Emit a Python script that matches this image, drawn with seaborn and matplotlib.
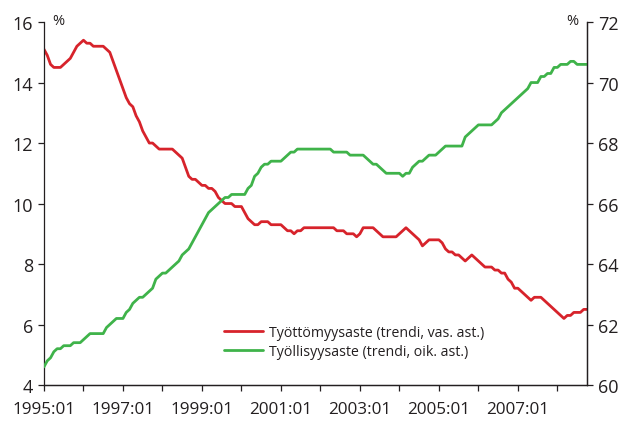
import numpy as np
import pandas as pd
import seaborn as sns
import matplotlib.pyplot as plt

# Kuukausisarjat 1995:01 - 2008:10 (trendi)
tyottomyys = [
    15.1, 14.9, 14.6, 14.5, 14.5, 14.5, 14.6, 14.7, 14.8, 15.0, 15.2, 15.3,
    15.4, 15.3, 15.3, 15.2, 15.2, 15.2, 15.2, 15.1, 15.0, 14.7, 14.4, 14.1,
    13.8, 13.5, 13.3, 13.2, 12.9, 12.7, 12.4, 12.2, 12.0, 12.0, 11.9, 11.8,
    11.8, 11.8, 11.8, 11.8, 11.7, 11.6, 11.5, 11.2, 10.9, 10.8, 10.8, 10.7,
    10.6, 10.6, 10.5, 10.5, 10.4, 10.2, 10.1, 10.0, 10.0, 10.0, 9.9, 9.9,
    9.9, 9.7, 9.5, 9.4, 9.3, 9.3, 9.4, 9.4, 9.4, 9.3, 9.3, 9.3,
    9.3, 9.2, 9.1, 9.1, 9.0, 9.1, 9.1, 9.2, 9.2, 9.2, 9.2, 9.2,
    9.2, 9.2, 9.2, 9.2, 9.2, 9.1, 9.1, 9.1, 9.0, 9.0, 9.0, 8.9,
    9.0, 9.2, 9.2, 9.2, 9.2, 9.1, 9.0, 8.9, 8.9, 8.9, 8.9, 8.9,
    9.0, 9.1, 9.2, 9.1, 9.0, 8.9, 8.8, 8.6, 8.7, 8.8, 8.8, 8.8,
    8.8, 8.7, 8.5, 8.4, 8.4, 8.3, 8.3, 8.2, 8.1, 8.2, 8.3, 8.2,
    8.1, 8.0, 7.9, 7.9, 7.9, 7.8, 7.8, 7.7, 7.7, 7.5, 7.4, 7.2,
    7.2, 7.1, 7.0, 6.9, 6.8, 6.9, 6.9, 6.9, 6.8, 6.7, 6.6, 6.5,
    6.4, 6.3, 6.2, 6.3, 6.3, 6.4, 6.4, 6.4, 6.5, 6.5,
]
tyollisyys = [
    60.6, 60.8, 60.9, 61.1, 61.2, 61.2, 61.3, 61.3, 61.3, 61.4, 61.4, 61.4,
    61.5, 61.6, 61.7, 61.7, 61.7, 61.7, 61.7, 61.9, 62.0, 62.1, 62.2, 62.2,
    62.2, 62.4, 62.5, 62.7, 62.8, 62.9, 62.9, 63.0, 63.1, 63.2, 63.5, 63.6,
    63.7, 63.7, 63.8, 63.9, 64.0, 64.1, 64.3, 64.4, 64.5, 64.7, 64.9, 65.1,
    65.3, 65.5, 65.7, 65.8, 65.9, 66.0, 66.1, 66.2, 66.2, 66.3, 66.3, 66.3,
    66.3, 66.3, 66.5, 66.6, 66.9, 67.0, 67.2, 67.3, 67.3, 67.4, 67.4, 67.4,
    67.4, 67.5, 67.6, 67.7, 67.7, 67.8, 67.8, 67.8, 67.8, 67.8, 67.8, 67.8,
    67.8, 67.8, 67.8, 67.8, 67.7, 67.7, 67.7, 67.7, 67.7, 67.6, 67.6, 67.6,
    67.6, 67.6, 67.5, 67.4, 67.3, 67.3, 67.2, 67.1, 67.0, 67.0, 67.0, 67.0,
    67.0, 66.9, 67.0, 67.0, 67.2, 67.3, 67.4, 67.4, 67.5, 67.6, 67.6, 67.6,
    67.7, 67.8, 67.9, 67.9, 67.9, 67.9, 67.9, 67.9, 68.2, 68.3, 68.4, 68.5,
    68.6, 68.6, 68.6, 68.6, 68.6, 68.7, 68.8, 69.0, 69.1, 69.2, 69.3, 69.4,
    69.5, 69.6, 69.7, 69.8, 70.0, 70.0, 70.0, 70.2, 70.2, 70.3, 70.3, 70.5,
    70.5, 70.6, 70.6, 70.6, 70.7, 70.7, 70.6, 70.6, 70.6, 70.6,
]
x_tick_labels = ["1995:01", "1997:01", "1999:01", "2001:01",
                 "2003:01", "2005:01", "2007:01"]
legend_labels = ["Työttömyysaste (trendi, vas. ast.)",
                 "Työllisyysaste (trendi, oik. ast.)"]

df = pd.DataFrame({
    "kk": np.arange(len(tyottomyys)),
    "tyottomyys": tyottomyys,
    "tyollisyys": tyollisyys,
})

sns.set_style("ticks")
plt.rcParams["font.family"] = ["Open Sans", "DejaVu Sans"]

punainen = "#d7232b"
vihrea = "#3fb34a"
tumma = "#231f20"

fig = plt.figure(figsize=(6.22, 4.27), dpi=100)
ax = fig.add_axes([0.0707, 0.096, 0.873, 0.85])
ax2 = ax.twinx()

sns.lineplot(data=df, x="kk", y="tyottomyys", ax=ax, color=punainen,
             linewidth=2.0, label=legend_labels[0], legend=False)
sns.lineplot(data=df, x="kk", y="tyollisyys", ax=ax2, color=vihrea,
             linewidth=2.0, label=legend_labels[1], legend=False)

ax.set_xlim(0, len(tyottomyys) - 1)
ax.set_ylim(4, 16)
ax2.set_ylim(60, 72)
ax.set_yticks(np.arange(4, 17, 2))
ax2.set_yticks(np.arange(60, 73, 2))
vuodet = np.arange(0, len(tyottomyys), 12)
ax.set_xticks(vuodet)
ax.set_xticklabels([x_tick_labels[i // 2] if i % 2 == 0 else ""
                    for i in range(len(vuodet))])

for a in (ax, ax2):
    a.set_xlabel("")
    a.set_ylabel("")
    a.spines["top"].set_visible(False)
    for s in a.spines.values():
        s.set_color(tumma)
        s.set_linewidth(0.9)
    a.tick_params(colors=tumma, labelsize=13, width=0.9, length=4.5)
ax.spines["right"].set_visible(True)
ax2.spines["left"].set_visible(False)
ax.tick_params(axis="x", pad=7, labelsize=12.3)

ax.text(0.015, 1.005, "%", transform=ax.transAxes, fontsize=10.5,
        color=tumma, ha="left", va="center")
ax.text(0.985, 1.005, "%", transform=ax.transAxes, fontsize=10.5,
        color=tumma, ha="right", va="center")

h1, l1 = ax.get_legend_handles_labels()
h2, l2 = ax2.get_legend_handles_labels()
leg = ax2.legend(h1 + h2, l1 + l2, loc="center left",
                 bbox_to_anchor=(0.331, 0.118), frameon=False,
                 fontsize=10.2, handlelength=2.8, handletextpad=0.4,
                 labelspacing=0.3, borderaxespad=0, borderpad=0)
for t in leg.get_texts():
    t.set_color(tumma)

fig.savefig("out.png", dpi=100)
